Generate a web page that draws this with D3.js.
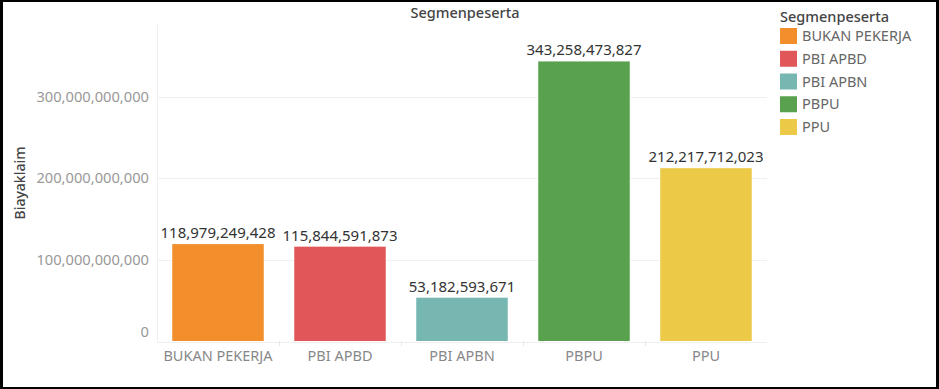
<!DOCTYPE html>
<html>
<head>
<meta charset="utf-8">
<script src="https://cdn.jsdelivr.net/npm/d3@7"></script>
<style>
  html, body { margin: 0; padding: 0; background: #000; }
  #chart { position: absolute; left: 3px; top: 2px; width: 933px; height: 385px; background: #fff; }
  text { font-family: "Noto Sans", sans-serif; }
</style>
</head>
<body>
<div id="chart"></div>
<script>
// data
var categories = ["BUKAN PEKERJA", "PBI APBD", "PBI APBN", "PBPU", "PPU"];
var values = [118979249428, 115844591873, 53182593671, 343258473827, 212217712023];
var colors = ["#f28e2b", "#e15759", "#76b7b2", "#59a14f", "#edc948"];
var yTicks = [0, 100000000000, 200000000000, 300000000000];

// offset of chart div inside window
var ox = 3, oy = 2;
var width = 933, height = 385;
var marginLeft = 157 - ox, marginRight = 767 - ox;
var marginTop = 25 - oy, baseline = 341 - oy;

var svg = d3.select("#chart")
  .append("svg")
  .attr("width", width)
  .attr("height", height);

var xScale = d3.scaleBand()
  .domain(categories)
  .range([marginLeft, marginRight])
  .paddingInner(0.25)
  .paddingOuter(0.125);

var yScale = d3.scaleLinear()
  .domain([0, 388000000000])
  .range([baseline, marginTop]);

var fmt = d3.format(",");

// gridlines
svg.append("g")
  .selectAll("line")
  .data(yTicks.slice(1))
  .enter()
  .append("line")
  .attr("x1", marginLeft)
  .attr("x2", marginRight)
  .attr("y1", function(d){ return Math.round(yScale(d)) + 0.5; })
  .attr("y2", function(d){ return Math.round(yScale(d)) + 0.5; })
  .attr("stroke", "#f0f0f0");

// y axis
var yAxis = d3.axisLeft(yScale)
  .tickValues(yTicks)
  .tickFormat(function(d){ return fmt(d); })
  .tickSize(0)
  .tickPadding(8);

var yG = svg.append("g")
  .attr("transform", "translate(" + marginLeft + ",0)")
  .call(yAxis);
yG.select(".domain").attr("stroke", "#f0f0f0").attr("d", "M0.5," + marginTop + "V" + (baseline + 1));
yG.selectAll("text")
  .attr("fill", "#999")
  .style("font-size", "14.7px")
  .attr("dy", function(d){ return d === 0 ? "-0.3em" : "0.32em"; });

// x axis
var xAxis = d3.axisBottom(xScale).tickSize(0).tickPadding(9);
var xG = svg.append("g")
  .attr("transform", "translate(0," + (baseline + 1) + ")")
  .call(xAxis);
xG.select(".domain").attr("stroke", "#f0f0f0").attr("d", "M" + marginLeft + ",0.5H" + marginRight);
xG.selectAll("text")
  .attr("fill", "#888")
  .style("font-size", "14.5px");

// column dividers
svg.append("g")
  .selectAll("line")
  .data(categories.slice(1))
  .enter()
  .append("line")
  .attr("x1", function(d){ return Math.round(xScale(d) - xScale.step() * 0.125) + 0.5; })
  .attr("x2", function(d){ return Math.round(xScale(d) - xScale.step() * 0.125) + 0.5; })
  .attr("y1", baseline)
  .attr("y2", baseline + 5)
  .attr("stroke", "#e8e8e8");

// bars
svg.selectAll("rect.bar")
  .data(values)
  .enter()
  .append("rect")
  .attr("class", "bar")
  .attr("x", function(d, i){ return xScale(categories[i]); })
  .attr("width", xScale.bandwidth())
  .attr("y", function(d){ return yScale(d); })
  .attr("height", function(d){ return baseline - yScale(d); })
  .attr("fill", function(d, i){ return colors[i]; });

// bar labels
svg.selectAll("text.lbl")
  .data(values)
  .enter()
  .append("text")
  .attr("class", "lbl")
  .attr("x", function(d, i){ return xScale(categories[i]) + xScale.bandwidth() / 2; })
  .attr("y", function(d){ return yScale(d) - 6; })
  .attr("text-anchor", "middle")
  .attr("fill", "#333")
  .style("font-size", "15px")
  .text(function(d){ return fmt(d); });

// title
svg.append("text")
  .attr("x", (marginLeft + marginRight) / 2 + 3)
  .attr("y", 16)
  .attr("text-anchor", "middle")
  .attr("fill", "#444")
  .style("font-size", "14.5px")
  .style("font-weight", "500")
  .text("Segmenpeserta");

// y title
svg.append("text")
  .attr("transform", "translate(" + 22 + "," + ((marginTop + baseline) / 2) + ") rotate(-90)")
  .attr("text-anchor", "middle")
  .attr("fill", "#444")
  .style("font-size", "14px")
  .style("font-weight", "500")
  .text("Biayaklaim");

// legend
var lg = svg.append("g").attr("transform", "translate(" + (780 - ox) + "," + (0) + ")");
lg.append("text")
  .attr("x", 0)
  .attr("y", 20)
  .attr("fill", "#444")
  .style("font-size", "14.5px")
  .style("font-weight", "500")
  .text("Segmenpeserta");

var items = lg.selectAll("g.item")
  .data(categories)
  .enter()
  .append("g")
  .attr("class", "item")
  .attr("transform", function(d, i){ return "translate(0," + (26 + i * 22.75) + ")"; });
items.append("rect")
  .attr("width", 17)
  .attr("height", 16)
  .attr("fill", function(d, i){ return colors[i]; });
items.append("text")
  .attr("x", 22)
  .attr("y", 13)
  .attr("fill", "#666")
  .style("font-size", "14.5px")
  .text(function(d){ return d; });
</script>
</body>
</html>
